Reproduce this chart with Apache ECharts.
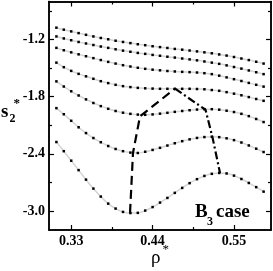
<!DOCTYPE html>
<html><head><meta charset="utf-8">
<script src="https://cdn.jsdelivr.net/npm/echarts@6/dist/echarts.min.js"></script>
<style>html,body{margin:0;padding:0;background:#fff}#c{width:273px;height:271px}</style>
</head><body><div id="c"></div>
<script>
const rho = [0.31,0.32,0.33,0.34,0.35,0.36,0.37,0.38,0.39,0.40,0.41,0.42,0.43,0.44,0.45,0.46,0.47,0.48,0.49,0.50,0.51,0.52,0.53,0.54,0.55,0.56,0.57,0.58,0.59];
const curveA = [-1.075,-1.096,-1.114,-1.132,-1.150,-1.167,-1.183,-1.197,-1.212,-1.225,-1.237,-1.249,-1.259,-1.270,-1.279,-1.288,-1.298,-1.306,-1.315,-1.324,-1.334,-1.344,-1.356,-1.368,-1.383,-1.399,-1.415,-1.433,-1.452];
const curveB = [-1.167,-1.188,-1.207,-1.225,-1.241,-1.257,-1.273,-1.287,-1.302,-1.316,-1.328,-1.340,-1.350,-1.361,-1.370,-1.380,-1.389,-1.399,-1.408,-1.418,-1.430,-1.442,-1.455,-1.471,-1.488,-1.505,-1.524,-1.543,-1.563];
const curveC = [-1.287,-1.312,-1.334,-1.355,-1.375,-1.395,-1.415,-1.434,-1.452,-1.469,-1.483,-1.496,-1.507,-1.516,-1.523,-1.530,-1.535,-1.539,-1.542,-1.546,-1.553,-1.563,-1.579,-1.597,-1.616,-1.635,-1.655,-1.675,-1.694];
const curveD = [-1.442,-1.490,-1.529,-1.560,-1.586,-1.612,-1.637,-1.657,-1.675,-1.689,-1.699,-1.707,-1.712,-1.715,-1.717,-1.717,-1.717,-1.717,-1.717,-1.719,-1.722,-1.730,-1.738,-1.752,-1.768,-1.785,-1.804,-1.824,-1.843];
const curveE = [-1.639,-1.693,-1.743,-1.787,-1.828,-1.866,-1.899,-1.927,-1.950,-1.968,-1.980,-1.988,-1.990,-1.986,-1.978,-1.969,-1.959,-1.950,-1.942,-1.935,-1.931,-1.931,-1.936,-1.947,-1.961,-1.980,-2.004,-2.034,-2.066];
const curveF = [-1.920,-1.984,-2.053,-2.121,-2.182,-2.234,-2.278,-2.318,-2.349,-2.372,-2.387,-2.391,-2.378,-2.359,-2.337,-2.313,-2.289,-2.267,-2.248,-2.233,-2.224,-2.220,-2.225,-2.237,-2.256,-2.281,-2.312,-2.346,-2.381];
const curveG = [-2.276,-2.372,-2.472,-2.571,-2.671,-2.765,-2.849,-2.923,-2.975,-3.010,-3.022,-3.020,-2.996,-2.959,-2.912,-2.863,-2.810,-2.758,-2.708,-2.666,-2.632,-2.610,-2.601,-2.606,-2.629,-2.664,-2.706,-2.750,-2.797];
const dashedRho = [0.4095,0.4135,0.4230,0.4703];
const dashedS = [-3.020,-2.391,-2.005,-1.715];
const dashDotRho = [0.4703,0.5115,0.5209,0.5311];
const dashDotS = [-1.715,-1.937,-2.226,-2.601];
const xMajorTicks = [0.33,0.44,0.55];
const xMinorTicks = [0.385,0.495];
const yMajorTicks = [-3.0,-2.4,-1.8,-1.2];
const yMinorTicks = [-2.7,-2.1,-1.5,-0.9];

const FONT = '"Liberation Serif","Times New Roman",serif';
const axLine = {show:true,onZero:false,lineStyle:{color:'#000',width:1.5}};
function xAx(pos, major, labels){
  return {type:'value',min:0.3,max:0.6,position:pos,
    axisLine:axLine,splitLine:{show:false},
    axisTick:{show:true,inside:true,length:major?5:3,customValues:major?xMajorTicks:xMinorTicks,lineStyle:{color:'#000',width:1.2}},
    axisLabel:labels?{show:true,customValues:xMajorTicks,formatter:v=>v.toFixed(2),margin:4,color:'#000',fontFamily:FONT,fontWeight:'bold',fontSize:14}:{show:false}};
}
function yAx(pos, major, labels){
  return {type:'value',min:-3.2,max:-0.8,position:pos,
    axisLine:axLine,splitLine:{show:false},
    axisTick:{show:true,inside:true,length:major?5:3,customValues:major?yMajorTicks:yMinorTicks,lineStyle:{color:'#000',width:1.2}},
    axisLabel:labels?{show:true,customValues:yMajorTicks,formatter:v=>v.toFixed(1),margin:4,color:'#000',fontFamily:FONT,fontWeight:'bold',fontSize:14}:{show:false}};
}
function curve(vals){
  return {type:'line',xAxisIndex:0,yAxisIndex:0,data:rho.map((r,i)=>[r,vals[i]]),
    smooth:true,symbol:'rect',symbolSize:2.5,showSymbol:true,
    lineStyle:{color:'#d4d4d4',width:1.5},itemStyle:{color:'#000'},z:2};
}
const chart = echarts.init(document.getElementById('c'),null,{renderer:'canvas'});
chart.setOption({
  animation:false,
  grid:{left:49,right:2,top:1.5,bottom:41,containLabel:false},
  xAxis:[xAx('bottom',true,true),xAx('bottom',false,false),xAx('top',true,false),xAx('top',false,false)],
  yAxis:[yAx('left',true,true),yAx('left',false,false),yAx('right',true,false),yAx('right',false,false)],
  series:[curve(curveA),curve(curveB),curve(curveC),curve(curveD),curve(curveE),curve(curveF),curve(curveG),
    {type:'line',data:dashedRho.map((r,i)=>[r,dashedS[i]]),symbol:'none',lineStyle:{color:'#000',width:2.2,type:[9,5]},z:3},
    {type:'line',data:dashDotRho.map((r,i)=>[r,dashDotS[i]]),symbol:'none',lineStyle:{color:'#000',width:2.2,type:[8,3,2,3]},z:3}
  ],
  graphic:[
    {type:'text',x:1,y:112.5,style:{text:'s',font:'bold 19px '+FONT,fill:'#000',textVerticalAlign:'middle'}},
    {type:'text',x:9.5,y:118.5,style:{text:'2',font:'bold 12px '+FONT,fill:'#000',textVerticalAlign:'middle'}},
    {type:'text',x:13.5,y:104,style:{text:'*',font:'bold 13px '+FONT,fill:'#000',textVerticalAlign:'middle'}},
    {type:'text',x:151,y:258,style:{text:'ρ',font:'19px '+FONT,fill:'#000',textVerticalAlign:'middle'}},
    {type:'text',x:162.5,y:250,style:{text:'*',font:'13px '+FONT,fill:'#000',textVerticalAlign:'middle'}},
    {type:'text',x:195,y:212,style:{text:'B',font:'bold 19px '+FONT,fill:'#000',textVerticalAlign:'middle'}},
    {type:'text',x:207,y:221.5,style:{text:'3',font:'bold 12px '+FONT,fill:'#000',textVerticalAlign:'middle'}},
    {type:'text',x:216,y:212,style:{text:'case',font:'bold 19px '+FONT,fill:'#000',textVerticalAlign:'middle'}}
  ]
});
</script></body></html>
